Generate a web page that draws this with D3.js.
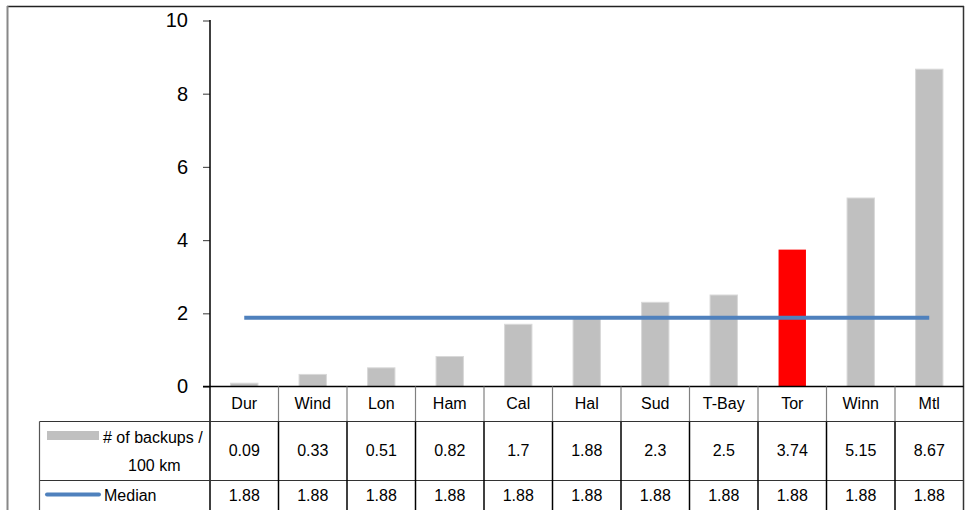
<!DOCTYPE html>
<html>
<head>
<meta charset="utf-8">
<script src="https://cdn.jsdelivr.net/npm/d3@7/dist/d3.min.js"></script>
<style>
  html, body { margin: 0; padding: 0; background: #fff; }
  svg { display: block; font-family: "Liberation Sans", Arial, sans-serif; }
</style>
</head>
<body>
<svg id="chart" width="965" height="510"></svg>
<script>
// Backup counts per 100 km by city, with the overall median
const cities = ["Dur", "Wind", "Lon", "Ham", "Cal", "Hal", "Sud", "T-Bay", "Tor", "Winn", "Mtl"];
const backups = [0.09, 0.33, 0.51, 0.82, 1.7, 1.88, 2.3, 2.5, 3.74, 5.15, 8.67];
const median = [1.88, 1.88, 1.88, 1.88, 1.88, 1.88, 1.88, 1.88, 1.88, 1.88, 1.88];
const yTicks = [0, 2, 4, 6, 8, 10];
const highlight = "Tor";

const svg = d3.select("#chart");
const plotLeft = 210, plotRight = 963.5, plotTop = 20.5, base = 386.5;
const rowTops = [386.5, 421.5, 480.5, 512];
const tableLeft = 39.5;
const fs = 16;

const x = d3.scaleBand().domain(cities).range([plotLeft, plotRight]).paddingInner(0.6).paddingOuter(0.3);
const band = d3.scaleBand().domain(cities).range([plotLeft, plotRight]);
const y = d3.scaleLinear().domain([0, 10]).range([base, plotTop]);

// outer frame
svg.append("line").attr("x1", 7).attr("x2", 964).attr("y1", 6.5).attr("y2", 6.5)
  .attr("stroke", "#222").attr("stroke-width", 1.5);
svg.append("line").attr("x1", 7.5).attr("x2", 7.5).attr("y1", 6).attr("y2", 510)
  .attr("stroke", "#888").attr("stroke-width", 2);
svg.append("line").attr("x1", 963.5).attr("x2", 963.5).attr("y1", 6).attr("y2", 510)
  .attr("stroke", "#333").attr("stroke-width", 1.5);

// bars
svg.append("g").selectAll("rect").data(cities).join("rect")
  .attr("x", d => x(d))
  .attr("width", x.bandwidth())
  .attr("y", (d, i) => y(backups[i]))
  .attr("height", (d, i) => base - y(backups[i]))
  .attr("fill", d => d === highlight ? "#FF0000" : "#C0C0C0")
  .attr("stroke", d => d === highlight ? "none" : "#D9D9D9")
  .attr("stroke-width", 1);

// median line
const line = d3.line().x(d => band(d) + band.bandwidth() / 2).y((d, i) => y(median[i]));
svg.append("path").datum(cities).attr("d", line)
  .attr("fill", "none").attr("stroke", "#4F81BD").attr("stroke-width", 4);

// y axis
const yAxis = d3.axisLeft(y).tickValues(yTicks).tickSize(7).tickPadding(15);
const ga = svg.append("g").attr("transform", `translate(${plotLeft},0)`).call(yAxis);
ga.select(".domain").remove();
ga.selectAll(".tick line").attr("stroke", "#555").attr("stroke-width", 1.2);
ga.selectAll(".tick text").attr("font-size", 20).attr("fill", "#000")
  .attr("font-family", "'Liberation Sans', Arial, sans-serif");
svg.append("line").attr("x1", plotLeft).attr("x2", plotLeft).attr("y1", plotTop - 0.5).attr("y2", 510)
  .attr("stroke", "#000").attr("stroke-width", 1.5);

// data table beneath the plot
const tbl = svg.append("g");
// horizontal rules
tbl.append("line").attr("x1", 203).attr("x2", plotRight).attr("y1", base).attr("y2", base)
  .attr("stroke", "#000").attr("stroke-width", 1.5);
[rowTops[1], rowTops[2]].forEach(yy => {
  tbl.append("line").attr("x1", tableLeft).attr("x2", plotRight).attr("y1", yy).attr("y2", yy)
    .attr("stroke", "#333").attr("stroke-width", 1.2);
});
tbl.append("line").attr("x1", tableLeft).attr("x2", tableLeft).attr("y1", rowTops[1]).attr("y2", 510)
  .attr("stroke", "#555").attr("stroke-width", 1.2);
// vertical separators between categories
cities.slice(1).forEach(c => {
  const xx = band(c);
  tbl.append("line").attr("x1", xx).attr("x2", xx).attr("y1", rowTops[0]).attr("y2", rowTops[1])
    .attr("stroke", "#808080").attr("stroke-width", 1.2);
  tbl.append("line").attr("x1", xx).attr("x2", xx).attr("y1", rowTops[1]).attr("y2", 510)
    .attr("stroke", "#000").attr("stroke-width", 1.5);
});

const cx = d => band(d) + band.bandwidth() / 2;
tbl.append("g").selectAll("text").data(cities).join("text")
  .attr("x", cx).attr("y", 408.5).attr("text-anchor", "middle")
  .attr("font-size", fs).text(d => d);
tbl.append("g").selectAll("text").data(cities).join("text")
  .attr("x", cx).attr("y", 456).attr("text-anchor", "middle")
  .attr("font-size", fs).text((d, i) => backups[i]);
tbl.append("g").selectAll("text").data(cities).join("text")
  .attr("x", cx).attr("y", 500.5).attr("text-anchor", "middle")
  .attr("font-size", fs).text((d, i) => median[i]);

// legend keys in the table's first column
tbl.append("rect").attr("x", 47).attr("y", 431).attr("width", 52).attr("height", 9).attr("fill", "#C0C0C0");
tbl.append("text").attr("x", 103).attr("y", 442.5).attr("font-size", fs).text("# of backups /");
tbl.append("text").attr("x", 128).attr("y", 471).attr("font-size", fs).text("100 km");
tbl.append("line").attr("x1", 47).attr("x2", 99).attr("y1", 494.5).attr("y2", 494.5)
  .attr("stroke", "#4F81BD").attr("stroke-width", 4).attr("stroke-linecap", "round");
tbl.append("text").attr("x", 104).attr("y", 500.5).attr("font-size", fs).text("Median");
</script>
</body>
</html>
